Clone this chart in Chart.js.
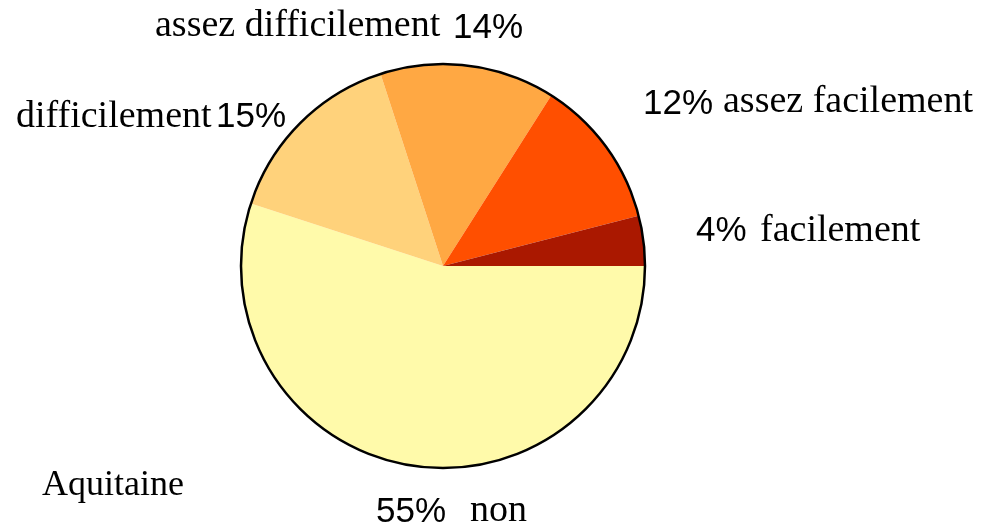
<!DOCTYPE html>
<html>
<head>
<meta charset="utf-8">
<script src="https://cdn.jsdelivr.net/npm/chart.js@4/dist/chart.umd.min.js"></script>
<style>
html,body{margin:0;padding:0;background:#fff;}
canvas{display:block;}
</style>
</head>
<body>
<canvas id="c" width="985" height="528"></canvas>
<script>
// Data (clockwise from 3 o'clock)
const categories = ["non", "difficilement", "assez difficilement", "assez facilement", "facilement"];
const values = [55, 15, 14, 12, 4];
const colors = ["#FFFAAA", "#FFD27B", "#FFA843", "#FF4F00", "#AA1800"];
const chartTitle = "Aquitaine";

// Label layout: serif label x / baseline, percent x / baseline
const labelLayout = [
  {lx: 470, ly: 521, px: 376, py: 522},   // non
  {lx: 16,  ly: 127, px: 216, py: 127},   // difficilement
  {lx: 155, ly: 36,  px: 453, py: 38},    // assez difficilement
  {lx: 723, ly: 112, px: 643, py: 114},   // assez facilement
  {lx: 760, ly: 241, px: 696, py: 241}    // facilement
];
const titlePos = {x: 42, y: 495};

const serifFont = '38px "Liberation Serif", "Times New Roman", serif';
const sansFont = '35px "Liberation Sans", Arial, sans-serif';

const outlineAndLabels = {
  id: 'outlineAndLabels',
  afterDatasetsDraw(chart) {
    const ctx = chart.ctx;
    const meta = chart.getDatasetMeta(0);
    const arc = meta.data[0];
    ctx.save();
    ctx.beginPath();
    ctx.arc(arc.x, arc.y, arc.outerRadius, 0, Math.PI * 2);
    ctx.lineWidth = 2.5;
    ctx.strokeStyle = "#000";
    ctx.stroke();

    ctx.fillStyle = "#000";
    ctx.textBaseline = "alphabetic";
    ctx.textAlign = "left";
    const total = values.reduce((a, b) => a + b, 0);
    categories.forEach((cat, i) => {
      const L = labelLayout[i];
      ctx.font = serifFont;
      ctx.fillText(cat, L.lx, L.ly);
      ctx.font = sansFont;
      ctx.fillText(Math.round(values[i] / total * 100) + "%", L.px, L.py);
    });
    ctx.font = '36px "Liberation Serif", "Times New Roman", serif';
    ctx.fillText(chartTitle, titlePos.x, titlePos.y);
    ctx.restore();
  }
};

new Chart(document.getElementById('c'), {
  type: 'pie',
  data: {
    labels: categories,
    datasets: [{
      data: values,
      backgroundColor: colors,
      borderWidth: 0
    }]
  },
  options: {
    responsive: false,
    animation: false,
    rotation: 90,
    layout: {padding: {top: 64, bottom: 60, left: 240, right: 339}},
    plugins: {
      legend: {display: false},
      tooltip: {enabled: false},
      title: {display: false}
    }
  },
  plugins: [outlineAndLabels]
});
</script>
</body>
</html>
